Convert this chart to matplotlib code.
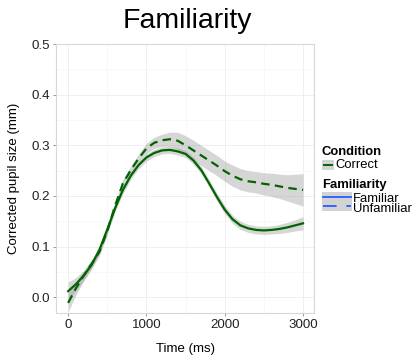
import matplotlib
matplotlib.use("Agg")
import matplotlib.pyplot as plt
from matplotlib.lines import Line2D
from matplotlib.patches import Rectangle
from matplotlib.ticker import MultipleLocator

plt.rcParams["font.family"] = ["Liberation Sans", "DejaVu Sans"]

# smoothed pupil curves, every 100 ms
time_ms = list(range(0, 3001, 100))
familiar = [0.012, 0.026, 0.043, 0.064, 0.094, 0.134, 0.176, 0.212, 0.240, 0.261,
            0.276, 0.285, 0.290, 0.291, 0.288, 0.283, 0.270, 0.251, 0.225, 0.198,
            0.173, 0.154, 0.142, 0.136, 0.133, 0.132, 0.133, 0.135, 0.138, 0.142, 0.146]
familiar_se = [0.018, 0.013, 0.010, 0.008, 0.007, 0.007, 0.007, 0.007, 0.007, 0.007,
               0.007, 0.007, 0.007, 0.007, 0.007, 0.007, 0.007, 0.007, 0.007, 0.008,
               0.008, 0.008, 0.008, 0.008, 0.008, 0.008, 0.008, 0.009, 0.010, 0.011, 0.013]
unfamiliar = [-0.011, 0.018, 0.043, 0.066, 0.090, 0.131, 0.181, 0.225, 0.251, 0.274,
              0.294, 0.305, 0.310, 0.312, 0.309, 0.300, 0.290, 0.280, 0.270, 0.260,
              0.249, 0.240, 0.233, 0.229, 0.227, 0.224, 0.222, 0.219, 0.216, 0.214, 0.212]
unfamiliar_se = [0.018, 0.013, 0.010, 0.009, 0.008, 0.008, 0.008, 0.008, 0.008, 0.009,
                 0.010, 0.011, 0.012, 0.014, 0.017, 0.019, 0.020, 0.020, 0.020, 0.020,
                 0.020, 0.021, 0.021, 0.021, 0.021, 0.022, 0.023, 0.024, 0.026, 0.029, 0.032]

GREEN = "#006400"
BLUE = "#3366FF"
W, H = 417, 355

fig = plt.figure(figsize=(W / 100, H / 100), dpi=100)
ax = fig.add_axes([56 / W, 1 - 312.5 / H, (314 - 56) / W, (312.5 - 44) / H])


def px(x, y):
    return x / W, 1 - y / H


for y, se in [(familiar, familiar_se), (unfamiliar, unfamiliar_se)]:
    lo = [a - b for a, b in zip(y, se)]
    hi = [a + b for a, b in zip(y, se)]
    ax.fill_between(time_ms, lo, hi, color="#999999", alpha=0.4, lw=0, zorder=2)

ax.plot(time_ms, familiar, color=GREEN, lw=1.6, zorder=3)
ax.plot(time_ms, unfamiliar, color=GREEN, lw=1.6, dashes=(3.8, 2.4), zorder=3)

ax.set_xlim(-155, 3140)
ax.set_ylim(-0.03, 0.5)
ax.xaxis.set_major_locator(MultipleLocator(1000))
ax.xaxis.set_minor_locator(MultipleLocator(500))
ax.yaxis.set_major_locator(MultipleLocator(0.1))
ax.yaxis.set_minor_locator(MultipleLocator(0.05))
ax.grid(which="major", color="#EDEDED", lw=0.6, zorder=0)
ax.grid(which="minor", color="#F6F6F6", lw=0.5, zorder=0)
ax.set_axisbelow(True)
ax.tick_params(which="major", length=2.5, width=0.6, color="#888888",
               labelsize=9.6, labelcolor="#222222", pad=2)
ax.tick_params(which="minor", length=0)
ax.set_yticks([0.0, 0.1, 0.2, 0.3, 0.4, 0.5])
ax.set_yticklabels(["0.0", "0.1", "0.2", "0.3", "0.4", "0.5"])
for s in ax.spines.values():
    s.set_color("#D8D8D8")
    s.set_linewidth(0.8)

ax.set_xlabel("Time (ms)", fontsize=9.5, labelpad=9)
ax.set_ylabel("Corrected pupil size (mm)", fontsize=9.5, labelpad=8)
fig.text(*px(187, 28), "Familiarity", fontsize=20.5, ha="center", va="baseline")

# legend drawn by hand to get ggplot's layout
fig.text(*px(322, 155), "Condition", fontsize=9.4, fontweight="bold", va="baseline")
fig.add_artist(Rectangle(px(322, 170), 12 / W, 10 / H, transform=fig.transFigure,
                         facecolor="#D3D3D3", edgecolor="none"))
fig.add_artist(Line2D([324 / W, 332 / W], [1 - 165 / H] * 2, transform=fig.transFigure,
                      color=GREEN, lw=1.4))
fig.text(*px(335, 168), "Correct", fontsize=9.4, va="baseline")

fig.text(*px(322, 188), "Familiarity", fontsize=9.4, fontweight="bold", va="baseline")
for top in (192, 201.5):
    fig.add_artist(Rectangle(px(322, top + 9.5), 30 / W, 9.5 / H, transform=fig.transFigure,
                             facecolor="#D3D3D3", edgecolor="none"))
fig.add_artist(Line2D([323 / W, 351 / W], [1 - 196.5 / H] * 2, transform=fig.transFigure,
                      color=BLUE, lw=1.4))
fig.add_artist(Line2D([323 / W, 351 / W], [1 - 206.3 / H] * 2, transform=fig.transFigure,
                      color=BLUE, lw=1.4, dashes=(7, 5)))
fig.text(*px(353, 202), "Familiar", fontsize=9.4, va="baseline")
fig.text(*px(353, 212), "Unfamiliar", fontsize=9.4, va="baseline")

fig.savefig("out.png", dpi=100)
